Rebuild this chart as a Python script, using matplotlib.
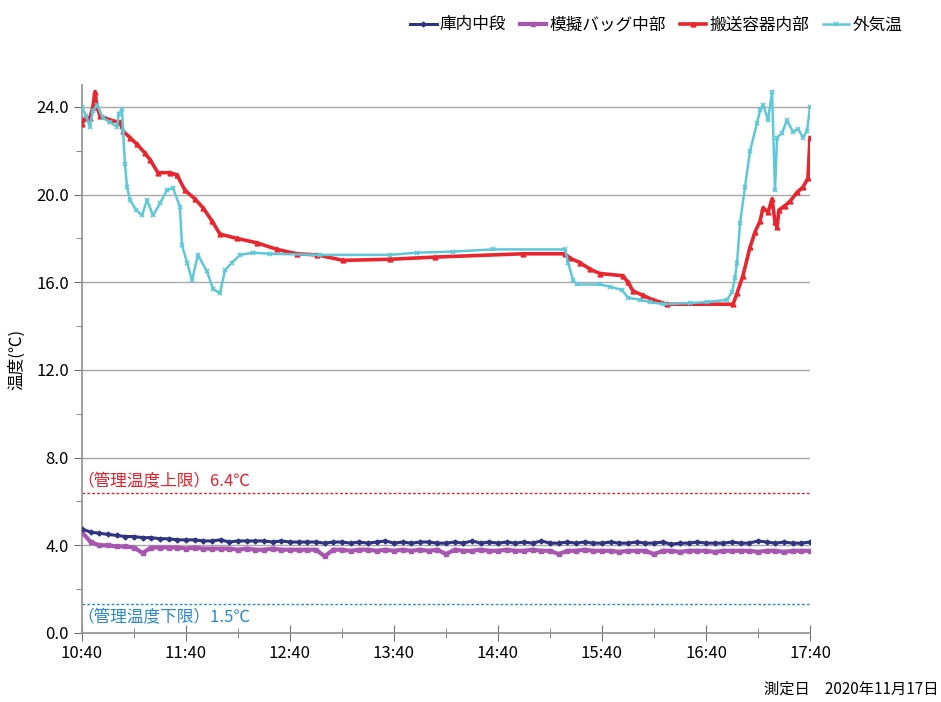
import numpy as np
import matplotlib.pyplot as plt
from matplotlib.ticker import MultipleLocator

plt.rcParams['font.family'] = ['Noto Sans CJK JP', 'DejaVu Sans']

# minutes after 10:40
tick_labels = ['10:40', '11:40', '12:40', '13:40', '14:40', '15:40', '16:40', '17:40']

# 庫内中段 / 模擬バッグ中部 : sampled every 5 min
t_inner = np.arange(0, 421, 5)
naka = [4.75, 4.6, 4.55, 4.5, 4.45, 4.4, 4.4, 4.35, 4.35, 4.3,
        4.3, 4.25, 4.25, 4.25, 4.2, 4.2, 4.25, 4.15, 4.2, 4.2,
        4.2, 4.2, 4.15, 4.2, 4.15, 4.15, 4.15, 4.15, 4.1, 4.15,
        4.15, 4.1, 4.15, 4.1, 4.15, 4.2, 4.1, 4.15, 4.1, 4.15,
        4.15, 4.1, 4.1, 4.15, 4.1, 4.2, 4.1, 4.15, 4.1, 4.15,
        4.1, 4.15, 4.1, 4.2, 4.1, 4.1, 4.15, 4.1, 4.15, 4.1,
        4.1, 4.15, 4.1, 4.1, 4.15, 4.1, 4.1, 4.15, 4.05, 4.1,
        4.1, 4.15, 4.1, 4.1, 4.1, 4.15, 4.1, 4.1, 4.2, 4.15,
        4.1, 4.15, 4.1, 4.1, 4.15]
bag = [4.6, 4.15, 4.0, 4.0, 3.95, 3.95, 3.9, 3.65, 3.9, 3.9,
       3.9, 3.9, 3.85, 3.9, 3.85, 3.85, 3.85, 3.85, 3.8, 3.85,
       3.8, 3.8, 3.85, 3.8, 3.8, 3.8, 3.8, 3.8, 3.5, 3.8,
       3.8, 3.75, 3.8, 3.8, 3.75, 3.8, 3.75, 3.8, 3.75, 3.8,
       3.75, 3.8, 3.6, 3.8, 3.75, 3.75, 3.8, 3.75, 3.75, 3.8,
       3.75, 3.75, 3.8, 3.75, 3.75, 3.6, 3.75, 3.75, 3.8, 3.75,
       3.75, 3.75, 3.7, 3.75, 3.75, 3.75, 3.6, 3.75, 3.75, 3.7,
       3.75, 3.75, 3.75, 3.7, 3.75, 3.75, 3.75, 3.75, 3.7, 3.75,
       3.75, 3.7, 3.75, 3.75, 3.75]

# 搬送容器内部
t_box = [0, 1.7, 4.6, 6.3, 7.5, 8.7, 10.4, 16.2, 21.9, 23.7,
         27.7, 31.7, 36.3, 39.2, 43.8, 50.8, 54.8, 59.4, 65.2, 69.8,
         75, 79.6, 89.4, 101, 112.5, 124, 135.6, 150.6, 177.7, 203.7,
         254.4, 278.7, 281.5, 287.3, 293, 298.8, 312, 315, 317.9, 323.7,
         329.4, 337.5, 375.6, 377.9, 381.3, 385.4, 388.3, 391.2, 392.9, 395.8,
         398.1, 399.8, 401, 402.1, 405.6, 408.5, 412.5, 416, 418.8, 420]
box = [23.2, 23.5, 23.5, 24.0, 24.7, 24.0, 23.6, 23.4, 23.3, 22.9,
       22.6, 22.3, 21.9, 21.6, 21.0, 21.0, 20.9, 20.2, 19.8, 19.4,
       18.8, 18.2, 18.0, 17.8, 17.5, 17.3, 17.25, 17.0, 17.05, 17.15,
       17.3, 17.3, 17.1, 16.9, 16.6, 16.4, 16.3, 16.0, 15.6, 15.4,
       15.2, 15.0, 15.0, 15.5, 16.3, 17.6, 18.3, 18.8, 19.4, 19.2,
       19.8, 18.75, 18.5, 19.3, 19.5, 19.7, 20.1, 20.35, 20.75, 22.6]

# 外気温
t_out = [0, 2.3, 4.6, 6.3, 8.7, 12.1, 16.2, 20.2, 21.3, 23.1,
         23.7, 24.8, 26, 27.7, 31.2, 34.6, 37.5, 41, 45, 49,
         52.5, 56.5, 57.7, 60.6, 63.5, 66.9, 72.1, 75.6, 79.6, 82.5,
         86.5, 91.2, 98.7, 108.5, 137.3, 177.7, 193.3, 214, 237.1, 278.7,
         280.4, 283.3, 285.6, 298.8, 304.6, 311.5, 315, 321.9, 327.7, 335.2,
         350.8, 360.6, 372.1, 375, 376.7, 377.9, 379.6, 382.5, 385.4, 389.4,
         391.2, 392.9, 395.8, 398.1, 399.8, 401, 403.8, 406.7, 410.2, 413.1,
         416, 418.3, 420]
outside = [24.0, 23.6, 23.1, 23.8, 24.1, 23.5, 23.3, 23.1, 23.7, 23.9,
           22.9, 21.4, 20.35, 19.75, 19.3, 19.05, 19.75, 19.05, 19.6, 20.2,
           20.3, 19.45, 17.7, 16.9, 16.1, 17.25, 16.5, 15.7, 15.5, 16.55,
           16.9, 17.25, 17.35, 17.3, 17.25, 17.25, 17.35, 17.4, 17.5, 17.5,
           16.9, 16.1, 15.9, 15.9, 15.8, 15.65, 15.3, 15.2, 15.1, 15.0,
           15.05, 15.1, 15.2, 15.55, 16.2, 16.9, 18.7, 20.35, 22.0, 23.25,
           23.85, 24.1, 23.4, 24.7, 20.2, 22.6, 22.8, 23.4, 22.85, 23.0,
           22.6, 22.9, 24.0]

upper_limit = 6.4
lower_limit = 1.3

fig = plt.figure(figsize=(9.41, 7.02), dpi=100)
ax = fig.add_axes([0.0871, 0.0983, 0.7737, 0.7806])

for y in range(4, 25, 4):
    ax.axhline(y, color='#a8a8a8', lw=1, zorder=0)

ax.axhline(upper_limit, color='#e8202a', lw=1, ls=(0, (2, 1.5)), zorder=1)
ax.axhline(lower_limit, color='#2a8ad0', lw=1, ls=(0, (2, 1.5)), zorder=1)
ax.text(-2.5, upper_limit + 0.1, '（管理温度上限）6.4℃', color='#e8202a',
        fontsize=12, va='bottom', ha='left')
ax.text(-2.5, lower_limit - 0.2, '（管理温度下限）1.5℃', color='#2a8ad0',
        fontsize=12, va='top', ha='left')

ax.plot(t_inner, naka, color='#2e3480', lw=2.2, marker='D', ms=2.5, label='庫内中段', zorder=4)
ax.plot(t_inner, bag, color='#a857b0', lw=3, marker='s', ms=3, label='模擬バッグ中部', zorder=3)
ax.plot(t_box, box, color='#e8262f', lw=2.6, marker='^', ms=3.5, label='搬送容器内部', zorder=3)
ax.plot(t_out, outside, color='#5fc8d8', lw=1.8, marker='x', ms=3.5, mew=1.2, label='外気温', zorder=4)

ax.set_xlim(0, 420)
ax.set_ylim(0, 25)
ax.set_xticks(np.arange(0, 421, 60))
ax.set_xticklabels(tick_labels)
ax.xaxis.set_minor_locator(MultipleLocator(30))
ax.set_yticks(np.arange(0, 25, 4))
ax.set_yticklabels(['%.1f' % v for v in np.arange(0, 25, 4)])
ax.yaxis.set_minor_locator(MultipleLocator(2))

ax.tick_params(axis='x', which='major', direction='inout', length=12, color='#707070',
               labelsize=12, pad=3)
ax.tick_params(axis='x', which='minor', direction='inout', length=7, color='#707070')
ax.tick_params(axis='y', which='major', direction='out', length=6, color='#707070',
               labelsize=12)
ax.tick_params(axis='y', which='minor', direction='out', length=4, color='#707070')

for side in ['top', 'right']:
    ax.spines[side].set_visible(False)
for side in ['left', 'bottom']:
    ax.spines[side].set_color('#909090')
    ax.spines[side].set_linewidth(1.2)

ax.set_ylabel('温度(℃)', fontsize=12, labelpad=8)

fig.legend(loc='upper right', bbox_to_anchor=(0.975, 0.998), ncol=4, frameon=False,
           fontsize=12, handlelength=1.6, columnspacing=0.8, handletextpad=0.2)

fig.text(0.997, 0.018, '測定日　2020年11月17日', ha='right', va='center', fontsize=11)

fig.savefig('out.png', dpi=100)
